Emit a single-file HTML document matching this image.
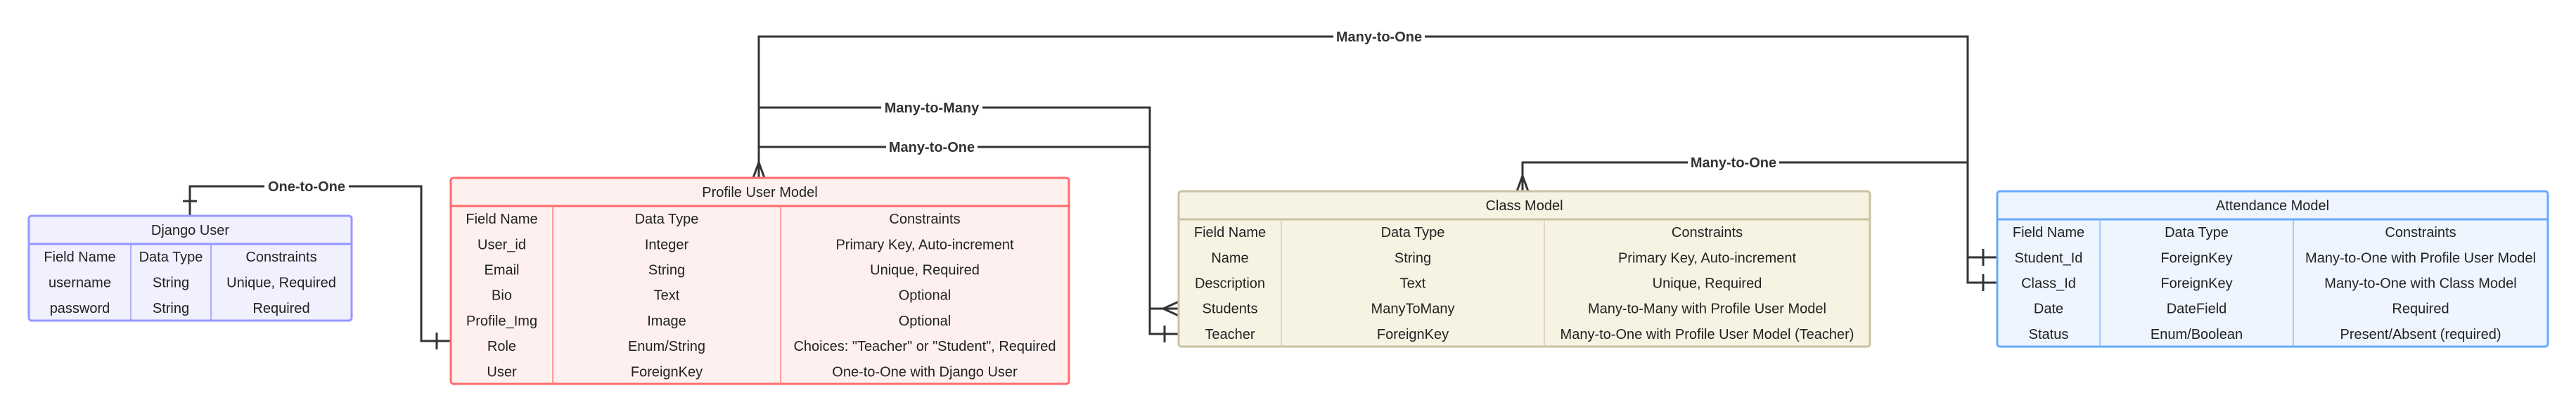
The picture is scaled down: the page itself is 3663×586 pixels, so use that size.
<!DOCTYPE html>
<html><head><meta charset="utf-8"><style>
body{margin:0;background:#fff;}
svg{display:block;font-family:"Liberation Sans",sans-serif;}
</style></head><body>
<svg id="d" width="3663" height="586" viewBox="0 0 3663 586">
<g id="lines" fill="none" stroke="#333" stroke-width="3">
 <path d="M270 307 V265 H599 V485 H641"/>
 <path d="M1079 253 V52 H2798 V366 H2840"/>
 <path d="M1079 153 H1635 V439 H1676"/>
 <path d="M1079 209 H1635 V475 H1676"/>
 <path d="M2165 272 V231 H2798 V402 H2840"/>
 <path d="M260 286 H280"/>
 <path d="M621 473 V497"/>
 <path d="M1656 463 V487"/>
 <path d="M2820 354 V378 M2820 390 V414"/>
 <path d="M1071 253 L1079 231 L1087 253"/>
 <path d="M2157 272 L2165 250 L2173 272"/>
 <path d="M1676 429 L1654 439 L1676 449"/>
</g>
<g font-size="20" font-weight="bold" fill="#333" text-anchor="middle">
 <rect x="376" y="253" width="120" height="24" fill="#fff"/><text x="436" y="272">One-to-One</text>
 <rect x="1896" y="40" width="130" height="24" fill="#fff"/><text x="1961" y="59">Many-to-One</text>
 <rect x="1253" y="141" width="144" height="24" fill="#fff"/><text x="1325" y="160">Many-to-Many</text>
 <rect x="1260" y="197" width="130" height="24" fill="#fff"/><text x="1325" y="216">Many-to-One</text>
 <rect x="2400" y="219" width="130" height="24" fill="#fff"/><text x="2465" y="238">Many-to-One</text>
</g>
<g id="ents"></g>
</svg>
<script>
const ents=[
 {name:'django-user',title:'Django User',x:41,y:307,w:459,h:149,hb:347,cols:[186,300],rh:36.3,fill:'#f0f0ff',stroke:'#9797ff',inner:'#9797ff',
  rows:[['Field Name','Data Type','Constraints'],['username','String','Unique, Required'],['password','String','Required']]},
 {name:'profile-user-model',title:'Profile User Model',x:641,y:253,w:879,h:293,hb:293,cols:[786,1110],rh:36.2,fill:'#fff0f0',stroke:'#ff6b6b',inner:'#ff8080',
  rows:[['Field Name','Data Type','Constraints'],['User_id','Integer','Primary Key, Auto-increment'],['Email','String','Unique, Required'],['Bio','Text','Optional'],['Profile_Img','Image','Optional'],['Role','Enum/String','Choices: "Teacher" or "Student", Required'],['User','ForeignKey','One-to-One with Django User']]},
 {name:'class-model',title:'Class Model',x:1676,y:272,w:983,h:221,hb:312,cols:[1822,2196],rh:36.2,fill:'#f6f3e3',stroke:'#c9c2a2',inner:'#d6d0b4',
  rows:[['Field Name','Data Type','Constraints'],['Name','String','Primary Key, Auto-increment'],['Description','Text','Unique, Required'],['Students','ManyToMany','Many-to-Many with Profile User Model'],['Teacher','ForeignKey','Many-to-One with Profile User Model (Teacher)']]},
 {name:'attendance-model',title:'Attendance Model',x:2840,y:272,w:783,h:221,hb:312,cols:[2986,3261],rh:36.2,fill:'#eef5ff',stroke:'#66aaff',inner:'#88bbff',
  rows:[['Field Name','Data Type','Constraints'],['Student_Id','ForeignKey','Many-to-One with Profile User Model'],['Class_Id','ForeignKey','Many-to-One with Class Model'],['Date','DateField','Required'],['Status','Enum/Boolean','Present/Absent (required)']]}
];
const NS='http://www.w3.org/2000/svg';
const root=document.getElementById('ents');
function mk(t,a,p){const e=document.createElementNS(NS,t);for(const k in a)e.setAttribute(k,a[k]);p.appendChild(e);return e;}
ents.forEach(en=>{
 const g=mk('g',{},root);
 
 
 mk('rect',{x:en.x,y:en.y,width:en.w,height:en.h,rx:4,fill:en.fill,stroke:en.stroke,'stroke-width':3},g);
 mk('line',{x1:en.x,x2:en.x+en.w,y1:en.hb,y2:en.hb,stroke:en.stroke,'stroke-width':3},g);
 en.cols.forEach(c=>mk('line',{x1:c,x2:c,y1:en.hb,y2:en.y+en.h,stroke:en.inner,'stroke-width':1.5},g));
 const t=mk('text',{x:en.x+en.w/2,y:(en.y+en.hb)/2+7,'font-size':20,'text-anchor':'middle',fill:'#222'},g);
 t.textContent=en.title;
 
 
 const edges=[en.x,...en.cols,en.x+en.w];
 en.rows.forEach((r,i)=>{
  const cy=en.hb+en.rh*(i+0.5);
  r.forEach((v,j)=>{
   const tx=mk('text',{x:(edges[j]+edges[j+1])/2,y:cy+7,'font-size':20,'text-anchor':'middle',fill:'#222'},g);
   tx.textContent=v;
   
   
  });
 });
});
</script>
</body></html>
